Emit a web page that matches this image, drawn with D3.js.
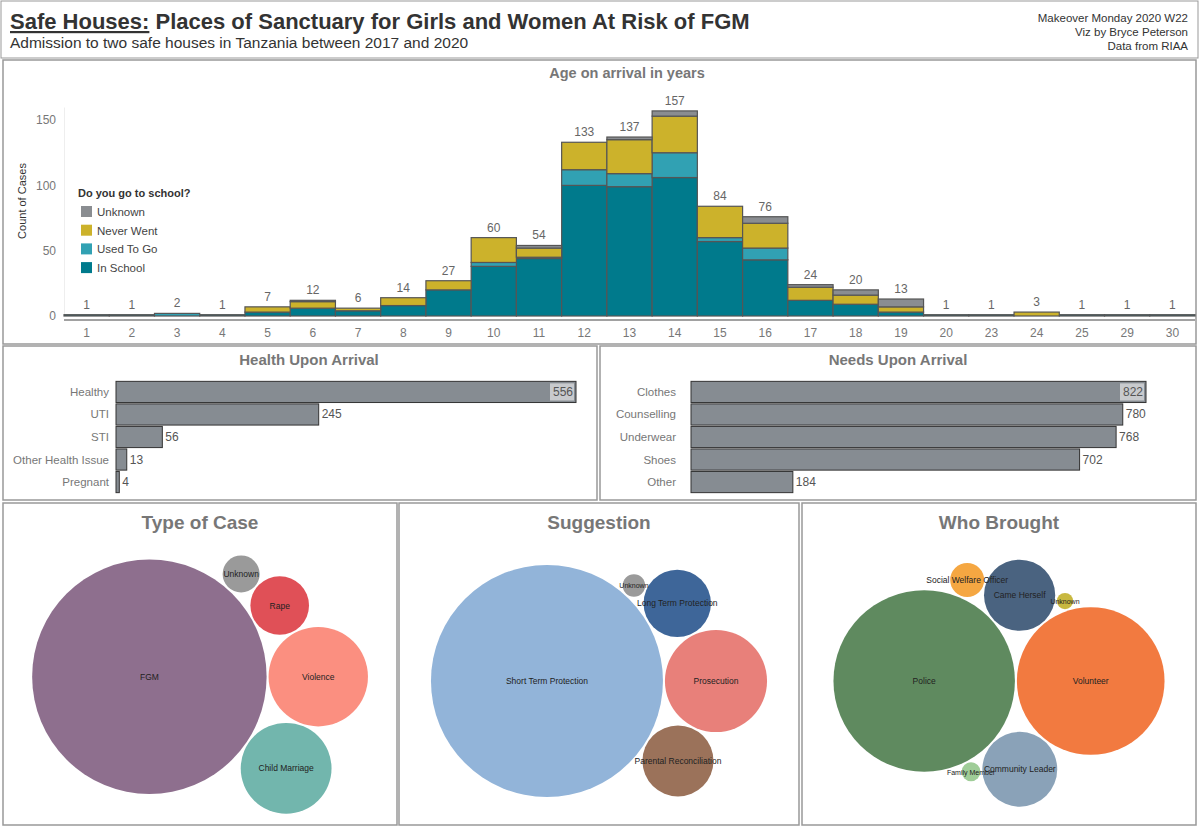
<!DOCTYPE html>
<html><head><meta charset="utf-8">
<script src="https://cdn.jsdelivr.net/npm/d3@7"></script>
<style>body{margin:0;background:#fff;font-family:"Liberation Sans",Arial,sans-serif}</style>
</head><body><svg id="c" width="1200" height="828" font-family="'Liberation Sans',Arial,sans-serif"></svg>
<script>
// Age data
var ages = ["1","2","3","4","5","6","7","8","9","10","11","12","13","14","15","16","17","18","19","20","23","24","25","29","30"];
var inSchool  = [1,1,0,1,3,6,4,8,20,38,44,100,99,106,57,43,12,9,3,1,1,0,1,1,1];
var usedToGo  = [0,0,2,0,0,0,0,0,0,3,1,12,10,19,3,9,0,0,0,0,0,0,0,0,0];
var neverWent = [0,0,0,0,4,5,2,6,7,19,7,21,26,28,24,19,10,7,4,0,0,3,0,0,0];
var unknown   = [0,0,0,0,0,1,0,0,0,0,2,0,2,4,0,5,2,4,6,0,0,0,0,0,0];
var schoolKeys = ["In School","Used To Go","Never Went","Unknown"];
var schoolColors = ["#007a8c","#31a1b3","#ccb22b","#8a8d91"];

var healthCats = ["Healthy","UTI","STI","Other Health Issue","Pregnant"];
var healthVals = [556,245,56,13,4];
var needCats = ["Clothes","Counselling","Underwear","Shoes","Other"];
var needVals = [822,780,768,702,184];

var caseCats = ["FGM","Violence","Child Marriage","Rape","Unknown"];
var caseVals = [640,115,96,40,16];
var caseCols = ["#8e6f8e","#fb8f80","#72b6ad","#e05057","#9a9a9a"];
var suggCats = ["Short Term Protection","Prosecution","Parental Reconciliation","Long Term Protection","Unknown"];
var suggVals = [640,124,60,54,6];
var suggCols = ["#92b4d9","#e8807a","#9b725a","#3e6699","#9a9a9a"];
var whoCats = ["Police","Volunteer","Community Leader","Came Herself","Social Welfare Officer","Family Member","Unknown"];
var whoVals = [370,245,63,57,13,4,3];
var whoCols = ["#5f8a5f","#f27a40","#8aa2b8","#4a6380","#f5a742","#9fcd98","#c8b840"];

var svg = d3.select("#c");
var grey = "#777";

// header
svg.append("rect").attr("x",1).attr("y",1).attr("width",1197).attr("height",57).attr("fill","none").attr("stroke","#999");
var t = svg.append("text").attr("x",10).attr("y",29).attr("font-size",22).attr("font-weight","bold").attr("fill","#333");
t.append("tspan").attr("text-decoration","underline").text("Safe Houses:");
t.append("tspan").text(" Places of Sanctuary for Girls and Women At Risk of FGM");
svg.append("text").attr("x",10).attr("y",48).attr("font-size",15.5).attr("fill","#333").text("Admission to two safe houses in Tanzania between 2017 and 2020");
["Makeover Monday 2020 W22","Viz by Bryce Peterson","Data from RIAA"].forEach(function(s,i){
  svg.append("text").attr("x",1188).attr("y",22+i*14).attr("text-anchor","end").attr("font-size",11.5).attr("fill","#333").text(s);
});

function panel(x,y,w,h){
  svg.append("rect").attr("x",x).attr("y",y).attr("width",w).attr("height",h).attr("fill","none").attr("stroke","#999").attr("stroke-width",1.5);
}
panel(3,60,1193,284); panel(3,346,594,154); panel(600,346,596,154);
panel(3,503,394,322); panel(399,503,400,322); panel(802,503,394,322);

// Age chart
var x = d3.scaleBand().domain(ages).range([64,1195]).padding(0);
var y = d3.scaleLinear().domain([0,160]).range([316,107]);
svg.append("text").attr("x",627).attr("y",78).attr("text-anchor","middle").attr("font-size",14.5).attr("font-weight","bold").attr("fill",grey).text("Age on arrival in years");
var yAx = svg.append("g").attr("transform","translate(64,0)").call(d3.axisLeft(y).tickValues([0,50,100,150]).tickSize(0).tickPadding(8));
yAx.select(".domain").attr("stroke","#eee");
yAx.selectAll("text").attr("font-size",12).attr("fill",grey).attr("font-family","'Liberation Sans',Arial,sans-serif");
svg.append("text").attr("transform","translate(26,201) rotate(-90)").attr("text-anchor","middle").attr("font-size",11).attr("fill","#333").text("Count of Cases");
var xAx = svg.append("g").attr("transform","translate(0,320)").call(d3.axisBottom(x).tickSize(0).tickPadding(8));
xAx.select(".domain").remove();
xAx.selectAll("text").attr("font-size",12).attr("fill",grey).attr("font-family","'Liberation Sans',Arial,sans-serif");
svg.append("line").attr("x1",64).attr("x2",1195).attr("y1",320).attr("y2",320).attr("stroke","#444");

var rows = ages.map(function(a,i){return {age:a,"In School":inSchool[i],"Used To Go":usedToGo[i],"Never Went":neverWent[i],"Unknown":unknown[i]};});
var stack = d3.stack().keys(schoolKeys)(rows);
svg.append("g").selectAll("g").data(stack).join("g").attr("fill",function(d,i){return schoolColors[i];})
  .selectAll("rect").data(function(d){return d;}).join("rect")
  .attr("x",function(d){return x(d.data.age);}).attr("width",x.bandwidth())
  .attr("y",function(d){return y(d[1]);}).attr("height",function(d){return y(d[0])-y(d[1]);})
  .attr("stroke","#555").attr("stroke-width",1.2);
svg.append("g").selectAll("text").data(rows).join("text")
  .attr("x",function(d){return x(d.age)+x.bandwidth()/2;})
  .attr("y",function(d){var s=d["In School"]+d["Used To Go"]+d["Never Went"]+d["Unknown"];return y(s)-6;})
  .attr("text-anchor","middle").attr("font-size",12).attr("fill","#666")
  .text(function(d){return d["In School"]+d["Used To Go"]+d["Never Went"]+d["Unknown"];});

// legend
svg.append("text").attr("x",78).attr("y",197).attr("font-size",11).attr("font-weight","bold").attr("fill","#333").text("Do you go to school?");
schoolKeys.slice().reverse().forEach(function(k,i){
  var c = schoolColors[schoolKeys.length-1-i];
  svg.append("rect").attr("x",81).attr("y",206+i*18.7).attr("width",11).attr("height",11).attr("fill",c);
  svg.append("text").attr("x",97).attr("y",216+i*18.7).attr("font-size",11.5).attr("fill","#444").text(k);
});

// horizontal bars
function hbars(title,cx,cats,vals,x0,x1,max,lx){
  svg.append("text").attr("x",cx).attr("y",365).attr("text-anchor","middle").attr("font-size",15).attr("font-weight","bold").attr("fill",grey).text(title);
  var yb = d3.scaleBand().domain(cats).range([380,494]).padding(0.06);
  var xs = d3.scaleLinear().domain([0,max]).range([x0,x1]);
  var g = svg.append("g");
  g.selectAll("rect").data(vals).join("rect").attr("x",x0).attr("y",function(d,i){return yb(cats[i]);})
    .attr("width",function(d){return xs(d)-x0;}).attr("height",yb.bandwidth())
    .attr("fill","#868c92").attr("stroke","#333").attr("stroke-width",1);
  g.selectAll("text.c").data(cats).join("text").attr("x",lx).attr("y",function(d){return yb(d)+yb.bandwidth()/2+4;})
    .attr("text-anchor","end").attr("font-size",11.5).attr("fill",grey).text(function(d){return d;});
  g.selectAll("text.v").data(vals).join("text").attr("y",function(d,i){return yb(cats[i])+yb.bandwidth()/2+4;})
    .attr("x",function(d,i){return i==0?xs(d)-3:xs(d)+3;}).attr("text-anchor",function(d,i){return i==0?"end":"start";})
    .attr("font-size",12).attr("fill","#555").text(function(d){return d;});
  g.insert("rect","text").attr("x",xs(vals[0])-26).attr("y",yb(cats[0])+2).attr("width",24).attr("height",yb.bandwidth()-4).attr("fill","#c8cacd");
}
hbars("Health Upon Arrival",309,healthCats,healthVals,116,576,556,109);
hbars("Needs Upon Arrival",898,needCats,needVals,691,1146,822,676);

// bubbles
function bubbles(title,x0,w,cats,vals,cols,size){
  svg.append("text").attr("x",x0+w/2).attr("y",529).attr("text-anchor","middle").attr("font-size",19).attr("font-weight","bold").attr("fill",grey).text(title);
  var root = d3.hierarchy({children:cats.map(function(c,i){return {name:c,value:vals[i],col:cols[i]};})}).sum(function(d){return d.value||0;});
  d3.pack().size([size,size]).padding(2)(root);
  var g = svg.append("g").attr("transform","translate("+(x0+(w-size)/2)+","+(540+(282-size)/2)+")");
  var n = g.selectAll("g").data(root.leaves()).join("g").attr("transform",function(d){return "translate("+d.x+","+d.y+")";});
  n.append("circle").attr("r",function(d){return d.r;}).attr("fill",function(d){return d.data.col;});
  n.append("text").attr("text-anchor","middle").attr("dy",3).attr("font-size",function(d){return d.r<15?7:8.5;}).attr("fill","#222").text(function(d){return d.data.name;});
}
bubbles("Type of Case",3,394,caseCats,caseVals,caseCols,340);
bubbles("Suggestion",399,400,suggCats,suggVals,suggCols,340);
bubbles("Who Brought",802,394,whoCats,whoVals,whoCols,335);
</script></body></html>
